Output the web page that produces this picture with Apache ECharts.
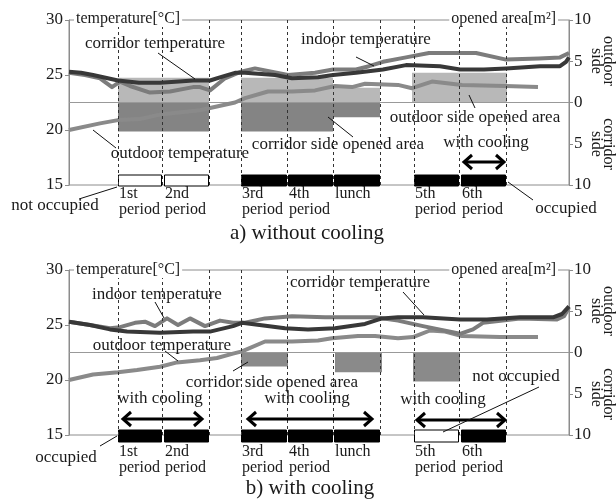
<!DOCTYPE html>
<html>
<head>
<meta charset="utf-8">
<script src="https://cdn.jsdelivr.net/npm/echarts@6/dist/echarts.min.js"></script>
<style>
  html, body { margin: 0; background: #fff; }
  #chart { width: 616px; height: 501px; }
</style>
</head>
<body>
<div id="chart"></div>
<script>
// x runs along the school day, 0..500 across the plot
const periodLines = [49, 93, 140, 172, 218, 264, 311, 345, 390, 437]
const periodNames = ['1st\nperiod', '2nd\nperiod', '3rd\nperiod', '4th\nperiod', 'lunch', '5th\nperiod', '6th\nperiod']
const periodStart = [49, 95, 172, 219, 265, 345, 392]
const periodEnd = [93, 140, 218, 264, 311, 390, 437]
const occupiedA = [0, 0, 1, 1, 1, 1, 1]
const occupiedB = [1, 1, 1, 1, 1, 0, 1]

// a) without cooling - temperatures [x, degC]
const corridorA = [[0, 25.3], [12, 25.2], [24, 25.0], [49, 24.5], [70, 24.3], [91, 24.3], [110, 24.4], [124, 24.5], [141, 24.5], [155, 24.9], [166, 25.2], [176, 25.2], [206, 25.0], [223, 24.7], [249, 24.8], [264, 25.0], [287, 25.2], [314, 25.5], [337, 25.9], [371, 25.8], [391, 25.5], [415, 25.5], [437, 25.6], [471, 25.8], [491, 25.8], [497, 26.2], [500, 26.6]]
const indoorA = [[0, 25.2], [16, 25.0], [31, 24.7], [43, 23.9], [51, 24.4], [61, 24.0], [81, 23.4], [101, 23.5], [124, 23.9], [131, 23.9], [141, 23.6], [156, 24.7], [172, 25.3], [186, 25.6], [219, 25.0], [246, 25.2], [264, 25.5], [287, 25.5], [300, 25.8], [314, 26.2], [337, 26.6], [360, 27.0], [407, 27.0], [437, 26.4], [470, 26.5], [491, 26.6], [500, 27.0]]
const outdoorA = [[0, 20.0], [31, 20.6], [49, 20.9], [71, 21.0], [91, 21.4], [131, 21.8], [141, 22.0], [166, 22.5], [176, 22.9], [199, 23.5], [223, 23.5], [246, 23.6], [266, 24.0], [283, 23.9], [296, 24.2], [329, 24.1], [343, 23.8], [363, 24.4], [393, 24.1], [436, 24.0], [469, 23.9]]
// opened area [x0, x1, m2] (+ outdoor side, - corridor side)
const openOutA = [[49, 140, 3.0], [172, 264, 3.0], [264, 311, 1.8], [343, 438, 3.6]]
const openCorA = [[49, 140, -3.5], [172, 264, -3.5], [264, 311, -1.8]]

// b) with cooling
const corridorB = [[0, 25.3], [21, 25.0], [41, 24.6], [58, 24.4], [91, 24.3], [124, 24.4], [141, 24.4], [164, 24.9], [173, 25.2], [216, 24.7], [239, 24.6], [266, 24.7], [296, 25.1], [313, 25.6], [329, 25.7], [354, 25.7], [391, 25.5], [418, 25.5], [451, 25.7], [484, 25.7], [493, 26.0], [500, 26.7]]
const indoorB = [[0, 25.3], [21, 25.0], [41, 24.7], [51, 24.8], [66, 25.2], [76, 25.3], [86, 24.9], [98, 25.6], [109, 25.0], [121, 25.6], [136, 24.9], [151, 25.4], [164, 25.2], [176, 25.2], [196, 25.6], [223, 25.8], [256, 25.7], [306, 25.7], [329, 25.4], [354, 24.9], [391, 24.2], [404, 24.6], [414, 25.2], [451, 25.6], [488, 25.5], [495, 25.8], [500, 26.6]]
const outdoorB = [[0, 20.0], [24, 20.5], [49, 20.7], [68, 20.9], [91, 21.2], [108, 21.6], [131, 21.8], [148, 22.0], [164, 22.4], [173, 22.6], [196, 23.5], [223, 23.5], [249, 23.6], [263, 23.8], [289, 24.0], [306, 24.0], [329, 23.8], [344, 23.9], [361, 24.5], [376, 24.4], [393, 24.0], [431, 23.9], [469, 23.9]]
const openCorB = [[172, 219, -1.7], [266, 313, -2.4], [344, 391, -3.5]]

const tempTicks = [15, 30, 5]
const areaTicks = [-10, 10, 5]

const FONT = '"Liberation Serif", "Times New Roman", serif'
const INK = '#1a1a1a'

const chart = echarts.init(document.getElementById('chart'))

function openedItem (color) {
  return function (params, api) {
    const a = api.coord([api.value(0), 0])
    const b = api.coord([api.value(1), api.value(2)])
    return {
      type: 'rect',
      shape: { x: a[0], y: Math.min(a[1], b[1]), width: b[0] - a[0], height: Math.abs(b[1] - a[1]) },
      style: { fill: color }
    }
  }
}

function scheduleItem (occ, boxTop, boxBottom, labelTop) {
  return function (params, api) {
    const i = params.dataIndex
    const a = api.coord([api.value(0), api.value(2)])
    const b = api.coord([api.value(1), api.value(2)])
    return {
      type: 'group',
      children: [
        {
          type: 'rect',
          shape: { x: a[0] + 0.5, y: a[1] + boxTop, width: b[0] - a[0] - 1, height: boxBottom - boxTop },
          style: { fill: occ[i] ? '#000' : '#fff', stroke: '#000', lineWidth: 1 }
        },
        {
          type: 'text',
          style: {
            text: periodNames[i], x: a[0] + 1, y: a[1] + labelTop,
            font: '16px ' + FONT, fill: INK, align: 'left', verticalAlign: 'top', lineHeight: 16
          }
        }
      ]
    }
  }
}

function tempAxis (grid) {
  return {
    type: 'value', gridIndex: grid, position: 'left',
    min: tempTicks[0], max: tempTicks[1], interval: tempTicks[2],
    axisLine: { show: true, lineStyle: { color: '#8c8c8c' } },
    axisTick: { show: true, length: 4, lineStyle: { color: '#8c8c8c' } },
    axisLabel: { fontFamily: FONT, fontSize: 17, color: INK, margin: 6 },
    splitLine: { show: false }
  }
}

function areaAxis (grid) {
  return {
    type: 'value', gridIndex: grid, position: 'right',
    min: areaTicks[0], max: areaTicks[1], interval: areaTicks[2],
    axisLine: { show: true, lineStyle: { color: '#8c8c8c' } },
    axisTick: { show: true, length: 4, lineStyle: { color: '#8c8c8c' } },
    axisLabel: { fontFamily: FONT, fontSize: 17, color: INK, margin: 5, formatter: v => String(Math.abs(v)) },
    splitLine: { show: false }
  }
}

function tempLine (grid, data, color, z) {
  return {
    type: 'line', xAxisIndex: grid, yAxisIndex: grid * 2, data: data,
    symbol: 'none', z: z, silent: true,
    lineStyle: { color: color, width: 4, join: 'round' }
  }
}

function baseLine (grid) {
  return {
    type: 'line', xAxisIndex: grid, yAxisIndex: grid * 2 + 1,
    data: [[0, 0], [500, 0]], symbol: 'none', z: 2, silent: true,
    lineStyle: { color: '#999', width: 1 },
    markLine: {
      silent: true, symbol: 'none', label: { show: false },
      lineStyle: { color: '#333', type: [3, 3], width: 1 },
      data: periodLines.map(x => ({ xAxis: x }))
    }
  }
}

function opened (grid, data, color) {
  return {
    type: 'custom', xAxisIndex: grid, yAxisIndex: grid * 2 + 1, z: 1, silent: true,
    encode: { x: [0, 1], y: 2 }, data: data, renderItem: openedItem(color)
  }
}

function schedule (grid, occ, boxTop, boxBottom, labelTop) {
  return {
    type: 'custom', xAxisIndex: grid, yAxisIndex: grid * 2, z: 4, silent: true,
    encode: { x: [0, 1], y: 2 },
    data: periodStart.map((s, i) => [s, periodEnd[i], tempTicks[0]]),
    renderItem: scheduleItem(occ, boxTop, boxBottom, labelTop)
  }
}

// annotation helpers (pixel placed)
function label (text, x, y, size) {
  return {
    type: 'text', x: x, y: y, z: 100,
    style: { text: text, font: (size || 17) + 'px ' + FONT, fill: INK, align: 'center', verticalAlign: 'middle' }
  }
}
function sideLabel (text, x, y) {
  return {
    type: 'text', x: x, y: y, z: 100, rotation: -Math.PI / 2,
    style: { text: text, font: '16px ' + FONT, fill: INK, align: 'center', verticalAlign: 'middle', lineHeight: 12 }
  }
}
function axisName (text, x, y, align) {
  return {
    type: 'text', x: x, y: y, z: 100,
    style: { text: text, font: '16px ' + FONT, fill: INK, align: align, verticalAlign: 'middle', backgroundColor: '#fff', padding: [0, 2] }
  }
}
function leader (x1, y1, x2, y2) {
  return { type: 'line', z: 100, shape: { x1: x1, y1: y1, x2: x2, y2: y2 }, style: { stroke: '#111', lineWidth: 1 } }
}
function arrow (x1, x2, y) {
  return [
    { type: 'line', z: 100, shape: { x1: x1 + 1, y1: y, x2: x2 - 1, y2: y }, style: { stroke: '#000', lineWidth: 3 } },
    { type: 'polyline', z: 100, shape: { points: [[x1 + 9, y - 7], [x1 + 1, y], [x1 + 9, y + 7]] }, style: { stroke: '#000', lineWidth: 3, fill: null } },
    { type: 'polyline', z: 100, shape: { points: [[x2 - 9, y - 7], [x2 - 1, y], [x2 - 9, y + 7]] }, style: { stroke: '#000', lineWidth: 3, fill: null } }
  ]
}

const graphics = [
  // panel a
  axisName('temperature[°C]', 74, 19, 'left'),
  axisName('opened area[m²]', 558, 19, 'right'),
  sideLabel('outdoor\nside', 602, 61),
  sideLabel('corridor\nside', 602, 144),
  label('corridor temperature', 155, 44), leader(158, 53, 195, 79),
  label('indoor temperature', 366, 40), leader(356, 57, 374, 66),
  label('outdoor temperature', 180, 154), leader(93, 130, 116, 148),
  label('corridor side opened area', 338, 145), leader(328, 117, 353, 137),
  label('outdoor side opened area', 475, 118), leader(469, 95, 475, 108),
  label('with cooling', 486, 143), ...arrow(463, 505, 162),
  label('not occupied', 55, 206), leader(79, 199, 117, 187),
  label('occupied', 566, 209), leader(508, 182, 533, 200),
  label('a) without cooling', 307, 233, 21),
  // panel b
  axisName('temperature[°C]', 74, 270, 'left'),
  axisName('opened area[m²]', 558, 270, 'right'),
  sideLabel('outdoor\nside', 602, 311),
  sideLabel('corridor\nside', 602, 394),
  label('indoor temperature', 157, 295), leader(155, 302, 164, 318),
  label('outdoor temperature', 162, 346), leader(165, 351, 178, 361),
  label('corridor side opened area', 272, 383), leader(233, 371, 248, 362),
  label('corridor temperature', 360, 283), leader(403, 292, 424, 315),
  label('with cooling', 160, 399), ...arrow(122, 203, 419),
  label('with cooling', 307, 399), ...arrow(247, 373, 419),
  label('with cooling', 443, 400), ...arrow(416, 506, 420),
  label('not occupied', 516, 377), leader(539, 387, 443, 432),
  label('occupied', 66, 458), leader(100, 446, 117, 436),
  label('b) with cooling', 310, 488, 21)
]

const option = {
  animation: false,
  backgroundColor: '#fff',
  grid: [
    { left: 69, top: 20, width: 500, height: 165, show: true, borderColor: '#8c8c8c', borderWidth: 1, outerBoundsMode: 'none' },
    { left: 69, top: 270, width: 500, height: 165, show: true, borderColor: '#8c8c8c', borderWidth: 1, outerBoundsMode: 'none' }
  ],
  xAxis: [
    { type: 'value', gridIndex: 0, min: 0, max: 500, show: false },
    { type: 'value', gridIndex: 1, min: 0, max: 500, show: false }
  ],
  yAxis: [tempAxis(0), areaAxis(0), tempAxis(1), areaAxis(1)],
  series: [
    opened(0, openOutA, '#b8b8b8'),
    opened(0, openCorA, '#848484'),
    baseLine(0),
    tempLine(0, outdoorA, '#8a8a8a', 3),
    tempLine(0, indoorA, '#7c7c7c', 3),
    tempLine(0, corridorA, '#383838', 3),
    schedule(0, occupiedA, -10, 1, 1),

    opened(1, openCorB, '#8a8a8a'),
    baseLine(1),
    tempLine(1, outdoorB, '#8a8a8a', 3),
    tempLine(1, indoorB, '#7c7c7c', 3),
    tempLine(1, corridorB, '#383838', 3),
    schedule(1, occupiedB, -5, 7, 9)
  ],
  graphic: graphics
}

chart.setOption(option)
</script>
</body>
</html>
